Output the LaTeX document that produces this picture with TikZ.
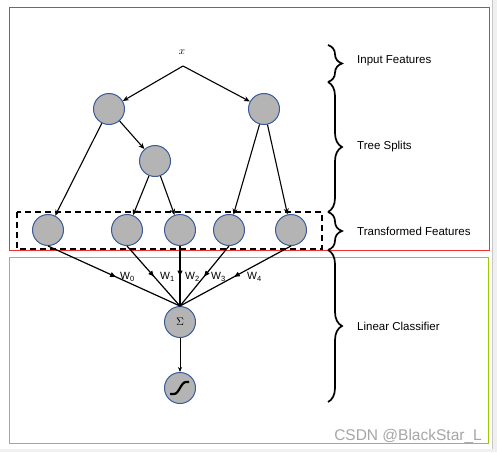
\documentclass[tikz,border=0pt]{standalone}
\usepackage{fontspec}
\setmainfont{Liberation Sans}
\usetikzlibrary{arrows.meta,decorations.pathreplacing,decorations.markings}
\definecolor{circfill}{HTML}{B4B4B4}
\definecolor{circedge}{HTML}{3A5A9A}
\definecolor{boxred}{HTML}{EE3333}
\definecolor{boxgreen}{HTML}{99CC00}
\definecolor{wmgray}{HTML}{A6A6A6}
\tikzset{
  unit/.style={circle,draw=circedge,fill=circfill,line width=1pt,minimum size=31pt,inner sep=0pt},
  treearrow/.style={-{Stealth[length=6pt,width=5pt]},line width=1.1pt},
  thinarrow/.style={-{Stealth[length=5pt,width=4pt]},line width=0.9pt},
  midarrow/.style={line width=1.2pt,postaction={decorate},decoration={markings,mark=at position 0.52 with {\arrow{Latex[length=6.5pt,width=5.5pt]}}}},
  bracestyle/.style={decorate,decoration={brace,amplitude=14pt},line width=1.7pt},
  sidelabel/.style={anchor=west,font=\fontsize{11.5}{13}\selectfont,inner sep=0pt},
  wlabel/.style={anchor=west,font=\fontsize{10.5}{12}\selectfont,inner sep=0pt}
}
\newcommand{\wsub}[1]{W\raisebox{-2.5pt}{\fontsize{7.5}{8}\selectfont #1}}
\begin{document}
\begin{tikzpicture}[x=1pt,y=-1pt]
\useasboundingbox (0,0) rectangle (497,452);
\fill[white] (0,0) rectangle (497,452);
% screenshot frame
\fill[black!6] (492,0) rectangle (497,452);
\fill[black!6] (0,449) rectangle (497,452);
\draw[black!22,line width=0.8pt] (492.5,0) -- (492.5,449);
% boxes
\draw[boxred,line width=1.5pt] (9.5,7.5) rectangle (489.5,250.5);
\draw[boxgreen,line width=1.5pt] (9.5,257.5) rectangle (488.5,443.5);
% dashed box
\draw[dashed,dash pattern=on 6pt off 4pt,line width=1.3pt] (17,212) rectangle (322,249);
% nodes
\node[inner sep=0pt] (x) at (182,52) {\fontsize{11}{12}\selectfont$x$};
\coordinate (xtop) at (183,66);
\node[unit] (n1) at (109,109) {};
\node[unit] (n2) at (264,109) {};
\node[unit] (n3) at (155,161) {};
\node[unit] (l1) at (48,230) {};
\node[unit] (l2) at (127,230) {};
\node[unit] (l3) at (180,230) {};
\node[unit] (l4) at (229,230) {};
\node[unit] (l5) at (291,230) {};
\node[unit] (sum) at (180,322) {\fontsize{11}{12}\selectfont$\Sigma$\hspace{5pt}};
\node[unit] (sig) at (180,388) {};
% sigmoid glyph
\draw[line width=2.2pt] (170,394) -- (174,394) .. controls (179,394) and (181,382) .. (186,382) -- (189,382);
% tree arrows
\draw[treearrow] (xtop) -- (n1);
\draw[treearrow] (xtop) -- (n2);
\draw[treearrow] (n1) -- (l1);
\draw[treearrow] (n1) -- (n3);
\draw[treearrow] (n3) -- (l2);
\draw[treearrow] (n3) -- (l3);
\draw[treearrow] (n2) -- (l4);
\draw[treearrow] (n2) -- (l5);
% classifier arrows
\draw[midarrow] (l1.south) -- (sum.north);
\draw[midarrow] (l2.south) -- (sum.north);
\draw[midarrow] (l3.south) -- (sum.north);
\draw[midarrow] (l4.south) -- (sum.north);
\draw[midarrow] (l5.south) -- (sum.north);
\draw[thinarrow] (sum) -- (sig);
% weights
\node[wlabel] (w0) at (120,277) {\wsub{0}};
\node[wlabel] (w1) at (160,277) {\wsub{1}};
\node[wlabel] (w2) at (185,277) {\wsub{2}};
\node[wlabel] (w3) at (211,277) {\wsub{3}};
\node[wlabel] (w4) at (247,277) {\wsub{4}};
% braces
\draw[bracestyle] (328,45) -- (328,82);
\draw[bracestyle] (328,82) -- (328,212);
\draw[bracestyle] (328,212) -- (328,250);
\draw[bracestyle] (328,250) -- (328,402);
\node[sidelabel] (t1) at (357,61) {Input Features};
\node[sidelabel] (t2) at (357,147) {Tree Splits};
\node[sidelabel] (t3) at (357,231) {Transformed Features};
\node[sidelabel] (t4) at (357,326) {Linear Classifier};
% watermark
\node[anchor=base east,inner sep=0pt,text=wmgray,font=\fontsize{15.5}{17}\selectfont] (wm) at (482,440) {CSDN @BlackStar\_L};
\end{tikzpicture}
\end{document}
